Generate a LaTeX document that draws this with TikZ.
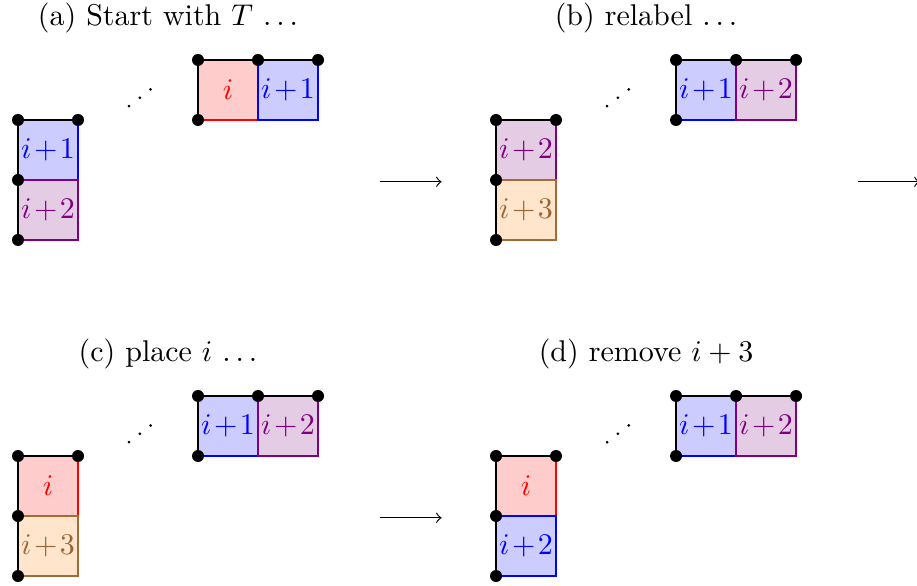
\documentclass[tikz,border=0pt]{standalone}
\usetikzlibrary{positioning}
\newcommand{\celltext}[1]{\ifnum#1=0 $i$\else$i\mkern1.5mu{+}\mkern1.5mu#1$\fi}
\begin{document}
\begin{tikzpicture}
[x=0.703cm,y=0.703cm,
  cellbox/.style={shape=rectangle,inner sep=0pt,minimum size=0.703cm,line width=0.5pt},
  cell red/.style={cellbox,draw=red,fill=red!20,text=red},
  cell blue/.style={cellbox,draw=blue,fill=blue!20,text=blue},
  cell violet/.style={cellbox,draw=violet,fill=violet!20,text=violet},
  cell brown/.style={cellbox,draw=brown!85!black,fill=orange!20,text=brown!80!black},
  cornerdot/.style={shape=circle,fill,inner sep=0pt,minimum size=4pt},
  smalldot/.style={shape=circle,fill,inner sep=0pt,minimum size=1pt},
  linedecorate/.style={-,line width=0.5pt},
  arrowdecorate/.style={->,line width=0.4pt}]
\useasboundingbox (0,0) rectangle (15.283,9.75);
%% panels
\foreach \p/\px/\py/\title/\cells in {
  a/0.3/5.75/{(a) Start with $T$ $\ldots$}/{3.5/2.5/red/0, 4.5/2.5/blue/1, 0.5/1.5/blue/1, 0.5/0.5/violet/2},
  b/8.267/5.75/{(b) relabel $\ldots$}/{3.5/2.5/blue/1, 4.5/2.5/violet/2, 0.5/1.5/violet/2, 0.5/0.5/brown/3},
  c/0.3/0.15/{(c) place $i$ $\ldots$}/{3.5/2.5/blue/1, 4.5/2.5/violet/2, 0.5/1.5/red/0, 0.5/0.5/brown/3},
  d/8.267/0.15/{(d) remove $i+3$}/{3.5/2.5/blue/1, 4.5/2.5/violet/2, 0.5/1.5/red/0, 0.5/0.5/blue/2}} {
  \begin{scope}[shift={(\px,\py)}]
    \node (\p-title) at (2.5,3.7) {\title};
    %% cells
    \foreach \x/\y/\col/\n in \cells {
      \node[cell \col] (\p-\x-\y) at (\x,\y) {\celltext{\n}};
    }
    %% corners
    \foreach \nodename/\x/\y in {t1/3/3, t2/4/3, t3/5/3, t4/3/2,
      c1/0/2, c2/1/2, c3/0/1, c4/0/0} {
      \coordinate (\p-\nodename) at (\x,\y);
    }
    \draw[linedecorate] (\p-t3) -- (\p-t1) -- (\p-t4);
    \draw[linedecorate] (\p-c2) -- (\p-c1) -- (\p-c4);
    \foreach \nodename in {t1, t2, t3, t4, c1, c2, c3, c4} {
      \node[cornerdot] at (\p-\nodename) {};
    }
    %% dots between the rows
    \foreach \nodename/\x/\y in {d1/1.85/2.23, d2/2.03/2.37, d3/2.21/2.51} {
      \node[smalldot] (\p-\nodename) at (\x,\y) {};
    }
    \coordinate (\p-from) at (6.03,0.97);
    \coordinate (\p-to) at (7.06,0.97);
  \end{scope}
}
%% arrows
\foreach \p in {a, b, c} {
  \draw[arrowdecorate] (\p-from) -- (\p-to);
}
\end{tikzpicture}
\end{document}
